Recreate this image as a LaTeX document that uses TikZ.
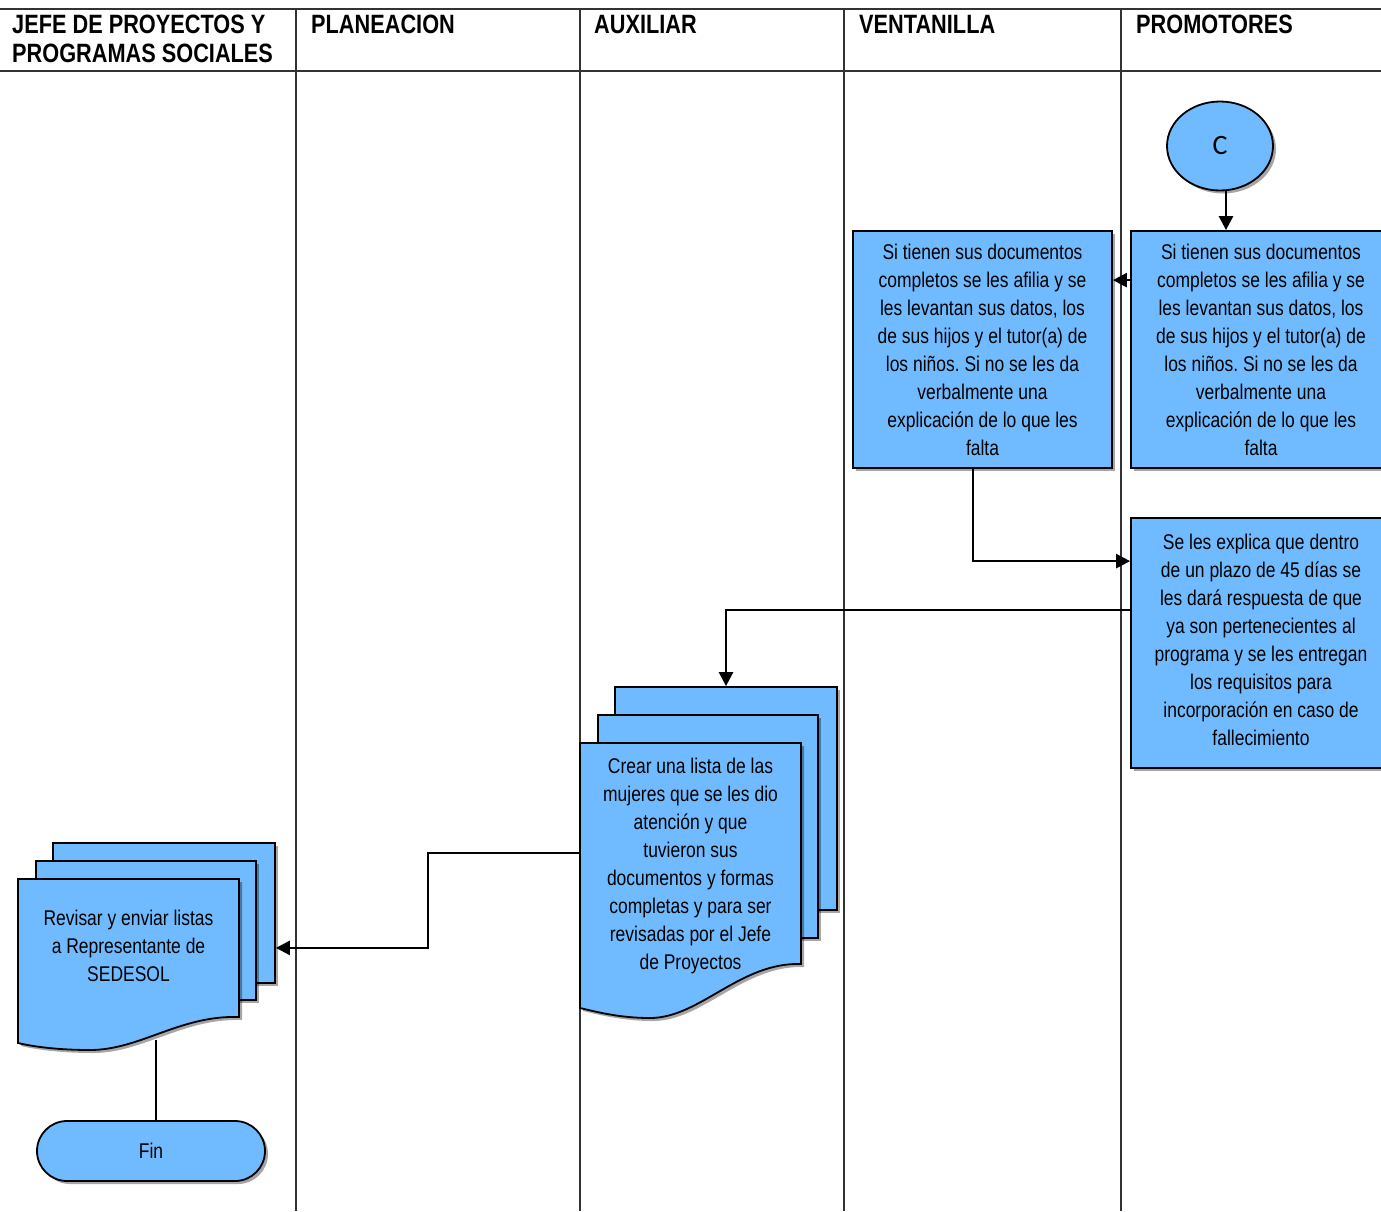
\documentclass[tikz,border=0pt]{standalone}
\usepackage{fontspec}
\setmainfont[FakeStretch=0.82]{Liberation Sans}
\newfontfamily\cfont{Carlito}
\usetikzlibrary{arrows.meta,shapes.geometric,shadows,calc}
\definecolor{boxblue}{RGB}{112,187,255}
\frenchspacing
\begin{document}
\begin{tikzpicture}[x=1pt,y=-1pt,
  lane/.style={draw=black!80, line width=1.2pt},
  hdr/.style={font=\fontsize{26.5}{29}\selectfont\bfseries, anchor=north west, inner sep=0pt, align=left},
  shd/.style={drop shadow={shadow xshift=3pt,shadow yshift=-3pt,opacity=0.35,fill=black}},
  body/.style={font=\fontsize{21.3}{28}\selectfont, align=center, inner sep=0pt},
  proc/.style={draw=black, line width=1.8pt, fill=boxblue, shd, body},
  sheet/.style={draw=black, line width=1.8pt, fill=boxblue, shd, inner sep=0pt},
  conn/.style={line width=2.6pt, draw=black},
  arr/.style={conn, -{Triangle[length=14pt,width=14pt]}},
]
\fill[white] (0,0) rectangle (1381,1211);
\useasboundingbox (0,0) rectangle (1381,1211);

% lanes
\draw[lane] (0,9) -- (1381,9);
\draw[lane] (0,71) -- (1381,71);
\foreach \x in {296,580,844,1121} \draw[lane] (\x,9) -- (\x,1211);

\node[hdr] (h1) at (12,15) {JEFE DE PROYECTOS Y\\PROGRAMAS SOCIALES};
\node[hdr] (h2) at (311,15) {PLANEACION};
\node[hdr] (h3) at (594,15) {AUXILIAR};
\node[hdr] (h4) at (859,15) {VENTANILLA};
\node[hdr] (h5) at (1136,15) {PROMOTORES};

% connector C
\node[ellipse, draw=black, line width=1.8pt, fill=boxblue, shd, minimum width=106pt, minimum height=89pt, inner sep=0pt, font=\cfont\fontsize{28}{30}\selectfont] (C) at (1220,146) {C};

% process boxes
\node[proc, minimum width=260pt, minimum height=237pt] (P1) at (1261,349.5) {Si tienen sus documentos\\completos se les afilia y se\\les levantan sus datos, los\\de sus hijos y el tutor(a) de\\los niños. Si no se les da\\verbalmente una\\explicación de lo que les\\falta};
\node[proc, minimum width=259pt, minimum height=237pt] (V1) at (982.5,349.5) {Si tienen sus documentos\\completos se les afilia y se\\les levantan sus datos, los\\de sus hijos y el tutor(a) de\\los niños. Si no se les da\\verbalmente una\\explicación de lo que les\\falta};
\node[proc, minimum width=260pt, minimum height=250pt, text depth=6pt] (P2) at (1261,643) {Se les explica que dentro\\de un plazo de 45 días se\\les dará respuesta de que\\ya son pertenecientes al\\programa y se les entregan\\los requisitos para\\incorporación en caso de\\fallecimiento};

% document stack A
\node[sheet, minimum width=222pt, minimum height=223pt] (Aback) at (726,798.5) {};
\node[sheet, minimum width=220pt, minimum height=223pt] (Amid) at (708,826.5) {};
\filldraw[draw=black, line width=1.8pt, fill=boxblue, shd] (580,743) -- (801,743) -- (801,964) .. controls (740,962) and (700,1018) .. (650,1018) .. controls (620,1018) and (597,1012) .. (580,1008) -- cycle;
\node[body, minimum width=221pt] (A) at (690.5,866) {Crear una lista de las\\mujeres que se les dio\\atención y que\\tuvieron sus\\documentos y formas\\completas y para ser\\revisadas por el Jefe\\de Proyectos};

% document stack J
\node[sheet, minimum width=222pt, minimum height=140pt] (Jback) at (164,913) {};
\node[sheet, minimum width=220pt, minimum height=139pt] (Jmid) at (146,930.5) {};
\filldraw[draw=black, line width=1.8pt, fill=boxblue, shd] (18,879) -- (239,879) -- (239,1017) .. controls (180,1015) and (140,1050) .. (90,1050) .. controls (60,1050) and (35,1047) .. (18,1043) -- cycle;
\node[body, minimum width=221pt] (J) at (128.5,946) {Revisar y enviar listas\\a Representante de\\SEDESOL};

% terminal
\node[draw=black, line width=1.8pt, fill=boxblue, shd, rounded corners=30pt, minimum width=228pt, minimum height=60pt, body] (Fin) at (151,1151) {Fin};

% connectors
\draw[arr] ($(C.south)+(6,0)$) -- ($(C.south |- P1.north)+(6,0)$);
\draw[arr] ($(P1.north west)+(0,50)$) -- ($(V1.north east)+(0,50)$);
\draw[arr] ($(V1.south)+(-9.5,0)$) |- ($(P2.north west)+(0,44)$);
\draw[arr] ($(P2.north west)+(0,93)$) -| (Aback.north);
\draw[arr] ($(A.west)+(0,-13)$) -- ++(-152,0) |- ($(Jback.south east)+(0,-36)$);
\draw[line width=1.5pt] ($(J.center)+(27.5,94)$) -- ($(Fin.north)+(5,0)$);
\end{tikzpicture}
\end{document}
